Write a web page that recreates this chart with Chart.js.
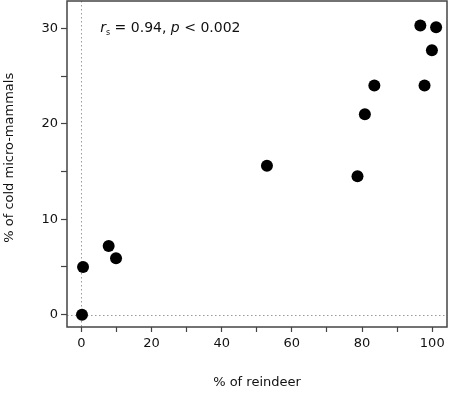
<!DOCTYPE html>
<html>
<head>
<meta charset="utf-8">
<script src="https://cdn.jsdelivr.net/npm/chart.js@4"></script>
<style>
  html, body { margin: 0; padding: 0; background: #fff; }
  #wrap { width: 450px; height: 394px; }
</style>
</head>
<body>
<div id="wrap"><canvas id="c" width="450" height="394"></canvas></div>
<script>
// ---- data ----
const reindeerPct = [0.2, 0.5, 7.8, 9.9, 52.9, 78.7, 80.8, 83.5, 96.6, 97.8, 99.9, 101.1];
const coldMicroMammalsPct = [0.0, 5.0, 7.2, 5.9, 15.6, 14.5, 21.0, 24.0, 30.3, 24.0, 27.7, 30.1];
const xTickLabels = [0, 20, 40, 60, 80, 100];
const yTickLabels = [0, 10, 20, 30];
const annotation = { r: 'r', sub: 's', mid: ' = 0.94, ', p: 'p', tail: ' < 0.002' };
const xTitle = '% of reindeer';
const yTitle = '% of cold micro-mammals';

const points = reindeerPct.map((x, i) => ({ x: x, y: coldMicroMammalsPct[i] }));
const FONT = "'DejaVu Sans', Verdana, sans-serif";
const AX = '#444';

const framePlugin = {
  id: 'frame',
  beforeDatasetsDraw(chart) {
    const { ctx, chartArea: a, scales: { x, y } } = chart;
    ctx.save();
    ctx.strokeStyle = '#9a9a9a';
    ctx.lineWidth = 1;
    ctx.setLineDash([1.5, 2.5]);
    const x0 = Math.round(x.getPixelForValue(0)) + 0.5;
    const y0 = Math.round(y.getPixelForValue(0)) + 0.5;
    ctx.beginPath();
    ctx.moveTo(x0, a.top); ctx.lineTo(x0, a.bottom);
    ctx.moveTo(a.left, y0); ctx.lineTo(a.right, y0);
    ctx.stroke();
    ctx.restore();
  },
  afterDraw(chart) {
    const { ctx, chartArea: a, scales: { x, y } } = chart;
    ctx.save();
    ctx.strokeStyle = AX;
    ctx.lineWidth = 1.5;
    ctx.strokeRect(a.left, a.top, a.right - a.left, a.bottom - a.top);
    // annotation text
    let px = x.getPixelForValue(5.4);
    const py = y.getPixelForValue(30.0);
    ctx.fillStyle = '#111';
    ctx.textBaseline = 'middle';
    ctx.textAlign = 'left';
    ctx.font = 'italic 14px ' + FONT;
    ctx.fillText(annotation.r, px, py);
    px += ctx.measureText(annotation.r).width;
    ctx.font = '8px ' + FONT;
    ctx.fillText(annotation.sub, px, py + 5);
    px += ctx.measureText(annotation.sub).width;
    ctx.font = '14px ' + FONT;
    ctx.fillText(annotation.mid, px, py);
    px += ctx.measureText(annotation.mid).width;
    ctx.font = 'italic 14px ' + FONT;
    ctx.fillText(annotation.p, px, py);
    px += ctx.measureText(annotation.p).width;
    ctx.font = '14px ' + FONT;
    ctx.fillText(annotation.tail, px, py);
    ctx.restore();
  }
};

new Chart(document.getElementById('c'), {
  type: 'scatter',
  data: {
    datasets: [{
      data: points,
      backgroundColor: '#000',
      borderWidth: 0,
      pointRadius: 6,
      pointHoverRadius: 6
    }]
  },
  options: {
    responsive: false,
    animation: false,
    devicePixelRatio: 1,
    layout: { autoPadding: false, padding: { top: 1, right: 3, bottom: 0, left: 0 } },
    plugins: { legend: { display: false }, tooltip: { enabled: false } },
    scales: {
      x: {
        type: 'linear',
        min: -4.07,
        max: 104.2,
        afterFit(s) { s.height = 67; s.paddingLeft = 0; s.paddingRight = 0; },
        border: { display: false },
        grid: { drawOnChartArea: false, drawTicks: true, tickLength: 5, tickColor: AX, tickWidth: 1.2 },
        ticks: {
          stepSize: 10,
          includeBounds: false,
          padding: 4,
          maxRotation: 0,
          autoSkip: false,
          color: '#111',
          font: { family: FONT, size: 13 },
          callback: v => xTickLabels.includes(v) ? String(v) : ''
        },
        title: { display: true, text: xTitle, color: '#111', font: { family: FONT, size: 13 }, padding: { top: 0, bottom: 4 } }
      },
      y: {
        type: 'linear',
        min: -1.29,
        max: 32.86,
        afterFit(s) { s.width = 67; s.paddingTop = 0; s.paddingBottom = 0; },
        border: { display: false },
        grid: { drawOnChartArea: false, drawTicks: true, tickLength: 6, tickColor: AX, tickWidth: 1.2 },
        ticks: {
          stepSize: 5,
          includeBounds: false,
          padding: 3,
          autoSkip: false,
          color: '#111',
          font: { family: FONT, size: 13 },
          callback: v => yTickLabels.includes(v) ? String(v) : ''
        },
        title: { display: true, text: '   ' + yTitle, color: '#111', font: { family: FONT, size: 13 }, padding: { top: 2, bottom: 0 } }
      }
    }
  },
  plugins: [framePlugin]
});
</script>
</body>
</html>
